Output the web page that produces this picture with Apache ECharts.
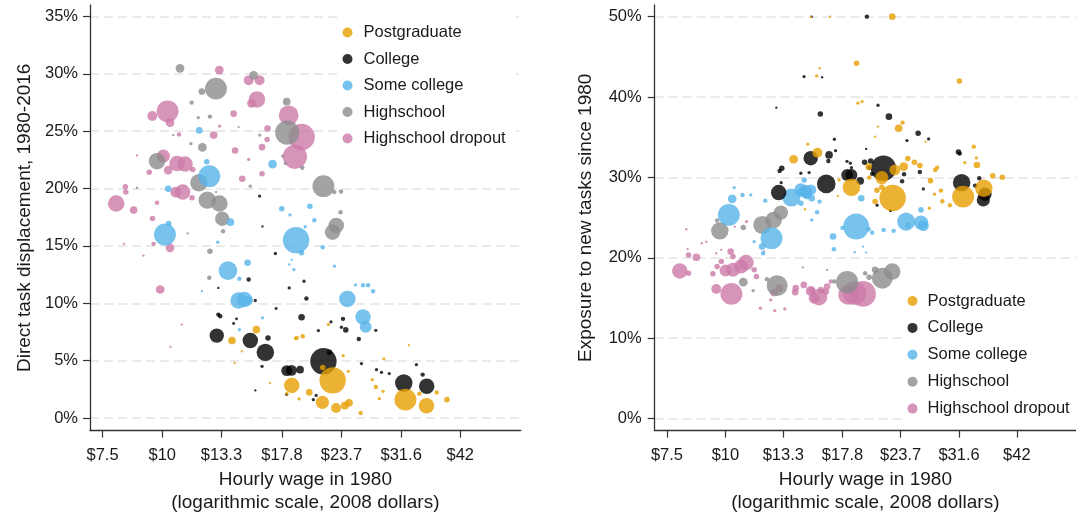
<!DOCTYPE html>
<html><head><meta charset="utf-8">
<script src="https://cdn.jsdelivr.net/npm/echarts@6/dist/echarts.min.js"></script>
<style>html,body{margin:0;padding:0;background:#fff}#c{width:1076px;height:519px}</style>
</head><body><div id="c"></div>
<script>
// Groups (legend order) and colours
const groups = ['Postgraduate', 'College', 'Some college', 'Highschool', 'Highschool dropout'];
const groupColors = ['#E69F00', '#000000', '#56B4E9', '#8c8c8c', '#CC79A7'];

// Axis ticks
const tickWages = [7.5, 10, 13.3, 17.8, 23.7, 31.6, 42];
const tickLabels = ['$7.5', '$10', '$13.3', '$17.8', '$23.7', '$31.6', '$42'];
const leftYTicks = [0, 5, 10, 15, 20, 25, 30, 35];
const rightYTicks = [0, 10, 20, 30, 40, 50];

// Left panel: [hourly wage 1980 ($), direct task displacement (%), employment weight]
const dispPostgrad = [[13.99,6.75,5.4],[15.73,7.7,5.4],[18.66,2.84,22],[18.21,2.12,1],[22.72,3.28,64],[21.62,1.36,16],[23.1,0.87,9],[24.08,1.07,5.4],[24.58,1.31,5.4],[20.3,2.23,4],[32.26,1.6,44],[35.7,1.07,22],[37.5,2.23,1.8],[39.4,1.6,2.8],[26.0,0.44,1.8],[22.26,8.14,1],[19.67,7.12,1.8],[19.11,6.98,1.8],[23.9,5.44,1],[24.5,4.07,1],[27.5,3.34,1],[27.97,2.7,1.8],[28.96,2.32,1],[28.44,1.68,1],[29.08,5.15,1],[34.5,2.12,1.8],[19.33,1.66,1],[14.68,5.81,0.5],[14.17,4.8,0.5],[16.81,3.05,0.5],[32.8,6.34,0.5],[21.66,4.4,2.8],[19.0,6.92,1]];
const dispCollege = [[13.0,7.18,19],[15.28,6.75,22],[16.43,5.72,28],[16.64,6.98,2.8],[16.17,4.5,1],[18.21,4.13,11],[18.63,4.15,11],[19.42,4.21,5.4],[21.73,4.94,64],[22.37,5.72,2.8],[19.56,8.78,4],[19.79,11.92,1],[20.02,10.41,1.8],[17.24,14.34,1],[18.43,11.34,1],[15.16,12.07,1.8],[15.65,10.24,1],[13.1,9.01,1.8],[13.22,8.87,1.8],[22.54,8.38,1],[23.88,8.64,1.8],[24.2,7.68,2.8],[23.7,7.91,1],[25.77,6.89,1.8],[27.97,7.64,1],[21.21,7.62,1],[26.1,4.74,1],[28.06,4.21,1],[28.75,3.98,1],[29.84,3.87,1],[32.0,3.05,28],[34.0,4.65,1],[35.05,3.78,1.8],[35.74,2.76,22],[20.98,1.97,1],[20.7,1.6,1],[15.98,19.34,1],[15.65,2.41,0.5],[14.3,8.64,0.8],[14.1,8.23,0.8],[18.2,2.06,1],[13.1,11.34,0.5],[16.2,16.7,0.5],[17.3,9.54,0.8]];
const dispSomeCollege = [[11.95,25.07,4],[12.39,22.34,2.8],[12.54,21.08,44],[10.29,19.98,4],[13.88,17.07,5.4],[17.78,18.24,2.8],[17.01,22.13,7],[10.13,15.99,44],[10.31,16.95,2.8],[13.06,15.32,1],[13.72,12.85,32],[14.5,12.13,1.8],[15.08,13.53,4],[14.44,10.24,25],[14.86,10.32,22],[15.15,10.24,7],[19.05,15.5,64],[19.56,14.4,2.8],[21.66,14.89,1.8],[22.92,13.23,1],[24.39,10.38,25],[25.36,11.6,1],[26.3,11.57,1.8],[26.95,11.57,1.8],[27.6,11.05,1.8],[26.3,8.81,22],[26.64,7.94,13],[20.36,18.46,2.8],[20.8,17.24,1.8],[18.5,17.7,1],[19.9,16.67,1],[18.85,12.94,1],[18.43,13.38,0.5],[14.5,7.7,1],[12.1,11.05,0.5],[16.2,8.73,1],[18.66,13.8,0.5]];
const dispHighschool = [[10.89,30.48,7],[12.95,28.71,44],[12.1,28.45,4],[15.53,29.87,7],[18.21,27.57,5.4],[18.26,24.87,54],[19.63,21.82,1.8],[21.73,20.21,44],[22.9,19.69,1.8],[23.65,19.75,1.8],[23.12,16.78,22],[22.71,16.2,22],[12.58,26.27,1.8],[12.13,23.59,7],[9.75,22.39,25],[11.93,20.51,28],[12.42,18.99,28],[13.17,18.7,25],[13.35,17.37,19],[12.58,14.54,2.8],[12.54,12.22,1.8],[11.52,27.49,1.8],[10.54,24.66,0.5],[11.48,23.91,1],[11.89,26.18,1],[14.45,25.36,0.5],[15.99,24.66,1],[18.1,22.19,1],[15.28,20.21,1],[12.96,19.69,0.5],[13.4,16.28,1.8],[23.6,17.94,1.8],[17.86,22.83,1],[8.85,20.07,0.5],[11.3,16.08,0.5]];
const dispDropout = [[13.16,30.33,7],[15.16,29.43,9],[15.98,29.43,9],[15.78,27.77,25],[18.38,26.38,36],[19.57,24.49,64],[18.94,22.77,54],[10.26,26.73,44],[9.53,26.32,9],[10.38,25.74,7],[12.81,24.66,5.4],[14.1,26.53,4],[10.84,24.72,1.8],[14.2,23.32,4],[10.05,22.83,16],[10.74,22.19,22],[11.16,22.13,22],[9.39,21.43,2.8],[10.29,21.61,7],[11.58,21.67,2.8],[11.03,19.69,22],[10.67,19.69,11],[8.01,18.7,25],[8.37,20.16,2.8],[8.39,19.69,2.8],[8.71,18.12,5.4],[9.54,17.39,2.8],[16.17,23.61,4],[16.57,24.28,2.8],[14.7,20.86,4],[16.17,21.29,2.8],[16.6,25.24,4],[10.38,14.83,7],[9.59,15.18,1.8],[8.31,15.18,0.5],[9.13,14.16,0.5],[9.9,11.2,7],[10.98,8.14,0.5],[10.4,6.2,0.5],[15.37,27.43,7],[13.18,25.45,1],[11.54,19.2,2.8],[8.85,22.89,0.5],[9.75,18.76,1.8],[15.16,22.54,1]];

// Right panel: [hourly wage 1980 ($), exposure to new tasks (%), employment weight]
const expPostgrad = [[15.23,50,0.5],[22.74,50,4],[16.73,50,0.5],[19.08,44.2,2.8],[31.65,41.98,2.8],[15.67,42.62,1],[19.2,39.23,1],[19.6,39.43,1],[23.93,36.82,1.8],[23.47,36.12,5.4],[13.99,32.26,7],[15.73,33.08,9],[23.03,30.93,11],[24.06,31.34,7],[24.55,32.34,2.8],[21.6,29.98,16],[18.6,28.78,28],[20.25,31.34,4],[26.05,31.47,2.8],[25.36,31.89,2.8],[28.37,31.22,1.8],[28.1,30.93,1.8],[27.45,29.6,2.8],[34.5,31.55,4],[33.97,33.83,1.8],[32.24,27.61,44],[35.7,28.66,28],[37.3,30.22,2.8],[39.1,30.02,2.8],[22.78,27.45,64],[21.09,28.41,2.8],[21.6,28.78,2.8],[20.9,26.99,2.8],[28.9,28.36,1.8],[28.0,27.91,1],[29.1,27.04,1.8],[30.2,26.54,1.8],[27.3,26.17,1],[32.5,31.84,1],[34.4,32.43,1],[15.0,34.13,1],[15.9,43.58,0.5],[21.2,36.32,0.5],[20.9,35.07,0.5],[20.3,29.98,1.8],[14.8,26.04,0.5],[26.8,34.45,0.5],[17.5,29.69,1],[17.4,27.7,0.5]];
const expCollege = [[20.07,50,1.8],[15.3,50,0.5],[14.73,42.54,1],[16.1,42.46,0.5],[12.85,38.68,0.5],[15.22,32.39,19],[13.2,31.14,2.8],[13.06,30.8,1.8],[13.16,29.35,1],[13.0,28.11,22],[21.2,38.98,1],[15.96,37.9,2.8],[22.37,37.56,4],[25.83,35.5,2.8],[27.2,34.79,1],[24.45,34.58,1],[17.1,34.75,1],[31.5,33.17,2.8],[31.7,32.96,1.8],[16.66,32.8,5.4],[17.2,33.33,1],[16.6,32.05,1.8],[20.0,33.54,0.5],[20.45,32.05,2.8],[19.85,31.89,2.8],[18.2,32.0,1],[18.5,31.77,1],[18.6,31.2,1],[21.78,31.14,59],[18.21,30.31,13],[18.6,30.31,13],[16.43,29.19,32],[19.42,29.56,5.4],[26.05,30.68,1.8],[23.87,29.53,1.8],[24.1,30.4,1.8],[32.0,29.35,28],[35.9,27.91,16],[35.6,27.2,16],[34.9,29.9,1.8],[34.2,28.98,1.8],[26.5,28.57,1],[22.55,25.87,1],[21.1,26.54,1],[14.5,30.52,1],[15.1,30.6,1],[20.3,31.2,1.8],[20.6,30.44,1.8]];
const expSomeCollege = [[10.34,27.33,7],[10.17,25.34,44],[10.88,27.82,1.8],[11.33,27.82,1],[10.44,28.73,1],[12.17,27.11,1.8],[13.84,27.49,30],[14.5,28.45,16],[14.86,28.23,16],[15.23,28.45,11],[14.74,29.69,2.8],[12.55,22.44,44],[11.98,21.39,4],[12.04,20.57,1.8],[19.04,23.88,62],[24.35,24.5,30],[26.2,24.38,19],[26.5,24.0,11],[26.2,25.96,2.8],[16.99,22.64,4],[17.06,21.07,1.8],[19.52,27.41,4],[20.6,23.13,1.8],[21.8,23.47,1.8],[22.9,23.35,1.8],[24.6,24.05,2.8],[14.6,28.23,7],[14.95,27.82,7],[15.3,27.41,4],[14.5,26.79,2.8],[15.9,26.99,1.8],[15.7,25.67,1.8],[15.3,24.71,1],[17.8,23.72,1.8],[20.25,23.56,1.8],[18.9,20.7,0.5],[19.7,21.39,0.5],[20.0,20.65,0.5],[11.52,22.0,1]];
const expHighschool = [[9.73,23.35,28],[11.99,24.09,30],[12.68,24.69,25],[13.14,25.62,19],[10.92,16.97,7],[12.9,16.54,40],[22.74,18.28,25],[21.65,17.46,40],[18.21,16.97,45],[20.9,18.5,4],[19.9,18.08,1.8],[20.3,17.59,2.8],[17.1,17.04,1.8],[10.92,23.76,2.8],[11.46,15.92,1],[12.27,17.34,1.8],[14.64,18.78,0.5],[9.6,24.63,1.8],[16.5,18.5,0.5]];
const expDropout = [[7.99,18.37,22],[8.34,18.08,2.8],[8.67,20.07,5.4],[8.34,20.36,2.8],[10.26,20.77,4],[10.01,18.41,13],[10.38,18.5,18],[10.8,18.91,18],[11.07,19.4,22],[9.4,18.0,2.8],[9.56,16.13,9],[10.3,15.51,44],[11.52,18.5,2.8],[11.65,17.66,2.8],[13.03,16.22,5.4],[12.71,15.67,5.4],[14.14,16.22,4],[14.71,16.63,4],[14.1,15.72,4],[15.22,15.88,9],[15.48,14.98,11],[15.86,15.1,25],[18.9,15.6,50],[19.7,15.51,60],[18.3,15.39,36],[15.3,15.92,4],[16.0,16.0,4],[16.5,16.42,4],[16.4,15.8,4],[16.8,17.04,1.8],[8.3,21.07,0.5],[9.1,22.0,0.5],[8.9,21.82,0.5],[9.56,20.57,0.5],[9.8,20.98,0.5],[12.1,20.77,0.5],[12.5,14.76,1],[11.88,13.73,1],[12.75,13.43,1],[13.4,13.64,1],[10.38,20.15,2.8],[9.8,19.53,2.8],[9.6,18.91,2.8],[11.1,24.5,1],[10.47,23.88,0.5],[8.25,23.56,0.5]];

const leftData = [dispPostgrad, dispCollege, dispSomeCollege, dispHighschool, dispDropout];
const rightData = [expPostgrad, expCollege, expSomeCollege, expHighschool, expDropout];

const FONT = "'Liberation Sans', Arial, sans-serif";
const TXT = '#1a1a1a';

function tickLabel(v) {
  let best = 0, bd = Infinity;
  tickWages.forEach((t, i) => { const d = Math.abs(Math.log(v) - Math.log(t)); if (d < bd) { bd = d; best = i; } });
  return tickLabels[best];
}

function xAxisFor(i) {
  return {
    type: 'log', logBase: 4 / 3, gridIndex: i, min: 7.06, max: 56.2,
    axisLine: { onZero: false, lineStyle: { color: '#333', width: 1.3 } },
    axisTick: { customValues: tickWages, length: 7, lineStyle: { color: '#333', width: 1.2 } },
    axisLabel: { customValues: tickWages, formatter: tickLabel, fontSize: 16.5, color: TXT, margin: 16, fontFamily: FONT },
    splitLine: { show: false },
    name: 'Hourly wage in 1980\n(logarithmic scale, 2008 dollars)',
    nameLocation: 'middle', nameGap: 38,
    nameTextStyle: { fontSize: 19, lineHeight: 22.7, color: TXT, fontFamily: FONT }
  };
}
function yAxisFor(i, min, max, ticks, name, gap, margin) {
  return {
    type: 'value', gridIndex: i, min: min, max: max,
    axisLine: { show: true, onZero: false, lineStyle: { color: '#333', width: 1.3 } },
    axisTick: { show: true, customValues: ticks, length: 7, lineStyle: { color: '#333', width: 1.2 } },
    axisLabel: { customValues: ticks, formatter: v => v + '%', fontSize: 16.5, color: TXT, margin: margin, fontFamily: FONT },
    splitLine: { show: true, lineStyle: { type: [9, 5], color: '#e3e3e3', width: 1.5 } },
    name: name, nameLocation: 'middle', nameRotate: 90, nameGap: gap,
    nameTextStyle: { fontSize: 19, color: TXT, fontFamily: FONT }
  };
}

const drawOrder = [4, 3, 2, 1, 0];
const series = [];
[leftData, rightData].forEach((panel, pi) => {
  drawOrder.forEach(g => {
    series.push({
      name: groups[g], type: 'scatter', xAxisIndex: pi, yAxisIndex: pi,
      data: panel[g],
      symbolSize: v => 3.3 * Math.sqrt(v[2]),
      itemStyle: { color: groupColors[g], opacity: 0.8 },
      emphasis: { disabled: true }
    });
  });
});

function legendFor(left, top, iw, gap) {
  return {
    data: groups, orient: 'vertical', left: left, top: top, icon: 'circle',
    itemWidth: iw, itemHeight: 10, itemGap: gap,
    backgroundColor: '#fff', padding: [10, 10, 10, 4],
    textStyle: { fontSize: 16.5, lineHeight: 18, color: TXT, fontFamily: FONT },
    selectedMode: false
  };
}

const chart = echarts.init(document.getElementById('c'), null, { renderer: 'canvas' });
chart.setOption({
  animation: false,
  backgroundColor: '#fff',
  grid: [
    { left: 90, top: 5, width: 430.7, height: 425.7 },
    { left: 654.7, top: 5, width: 430.7, height: 425.7 }
  ],
  xAxis: [xAxisFor(0), xAxisFor(1)],
  yAxis: [
    yAxisFor(0, -1.1, 36, leftYTicks, 'Direct task displacement, 1980-2016', 56, 12),
    yAxisFor(1, -1.5, 51.45, rightYTicks, 'Exposure to new tasks since 1980', 59, 13)
  ],
  legend: [legendFor(338.5, 13.5, 22, 8.5), legendFor(903.5, 282, 20, 8.9)],
  series: series
});
</script>
</body></html>
